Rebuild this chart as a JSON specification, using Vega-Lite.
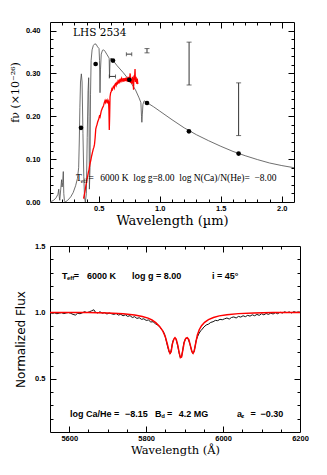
{
"$schema":"https://vega.github.io/schema/vega-lite/v6.json",
"padding":{"left":8,"top":21,"right":4,"bottom":4},
"background":"white",
"config":{"view":{"stroke":null},"axis":{"grid":false}},
"columns":1,"align":"none","spacing":14,
"datasets":{
"model":[{"x":0.10,"y":0.0},{"x":0.13,"y":0.004},{"x":0.15,"y":0.01},{"x":0.165,"y":0.018},{"x":0.172,"y":0.03},{"x":0.176,"y":0.012},{"x":0.18,"y":0.004},{"x":0.188,"y":0.03},{"x":0.195,"y":0.052},{"x":0.199,"y":0.035},{"x":0.204,"y":0.045},{"x":0.209,"y":0.071},{"x":0.213,"y":0.02},{"x":0.218,"y":0.003},{"x":0.225,"y":0.0},{"x":0.245,"y":0.004},{"x":0.27,"y":0.012},{"x":0.29,"y":0.022},{"x":0.31,"y":0.038},{"x":0.325,"y":0.055},{"x":0.335,"y":0.08},{"x":0.34,"y":0.14},{"x":0.345,"y":0.22},{"x":0.35,"y":0.28},{"x":0.357,"y":0.299},{"x":0.363,"y":0.28},{"x":0.37,"y":0.16},{"x":0.377,"y":0.06},{"x":0.383,"y":0.01},{"x":0.39,"y":0.0},{"x":0.398,"y":0.02},{"x":0.405,"y":0.15},{"x":0.412,"y":0.26},{"x":0.417,"y":0.29},{"x":0.42,"y":0.2},{"x":0.423,"y":0.03},{"x":0.428,"y":0.08},{"x":0.432,"y":0.25},{"x":0.437,"y":0.33},{"x":0.445,"y":0.355},{"x":0.455,"y":0.365},{"x":0.467,"y":0.369},{"x":0.478,"y":0.368},{"x":0.49,"y":0.362},{"x":0.502,"y":0.358},{"x":0.506,"y":0.33},{"x":0.51,"y":0.255},{"x":0.514,"y":0.31},{"x":0.52,"y":0.345},{"x":0.53,"y":0.354},{"x":0.54,"y":0.355},{"x":0.55,"y":0.352},{"x":0.565,"y":0.345},{"x":0.58,"y":0.338},{"x":0.585,"y":0.335},{"x":0.588,"y":0.29},{"x":0.592,"y":0.33},{"x":0.6,"y":0.336},{"x":0.62,"y":0.329},{"x":0.65,"y":0.318},{"x":0.7,"y":0.302},{"x":0.75,"y":0.284},{"x":0.8,"y":0.262},{"x":0.83,"y":0.243},{"x":0.845,"y":0.232},{"x":0.85,"y":0.2},{"x":0.853,"y":0.186},{"x":0.857,"y":0.205},{"x":0.862,"y":0.228},{"x":0.872,"y":0.236},{"x":0.88,"y":0.235},{"x":0.9,"y":0.231},{"x":0.95,"y":0.222},{"x":1.0,"y":0.212},{"x":1.1,"y":0.192},{"x":1.2,"y":0.173},{"x":1.3,"y":0.157},{"x":1.4,"y":0.143},{"x":1.5,"y":0.13},{"x":1.6,"y":0.118},{"x":1.7,"y":0.108},{"x":1.8,"y":0.099},{"x":1.9,"y":0.091},{"x":2.0,"y":0.085},{"x":2.1,"y":0.08}],
"obs":[{"x":0.375,"y":0.008},{"x":0.380,"y":0.015},{"x":0.385,"y":0.022},{"x":0.390,"y":0.030},{"x":0.395,"y":0.040},{"x":0.400,"y":0.046},{"x":0.405,"y":0.055},{"x":0.410,"y":0.062},{"x":0.415,"y":0.070},{"x":0.420,"y":0.075},{"x":0.425,"y":0.085},{"x":0.430,"y":0.092},{"x":0.435,"y":0.098},{"x":0.440,"y":0.106},{"x":0.445,"y":0.112},{"x":0.450,"y":0.118},{"x":0.455,"y":0.124},{"x":0.460,"y":0.128},{"x":0.465,"y":0.135},{"x":0.470,"y":0.150},{"x":0.475,"y":0.170},{"x":0.480,"y":0.176},{"x":0.485,"y":0.180},{"x":0.490,"y":0.186},{"x":0.495,"y":0.190},{"x":0.500,"y":0.194},{"x":0.505,"y":0.200},{"x":0.510,"y":0.198},{"x":0.515,"y":0.205},{"x":0.520,"y":0.212},{"x":0.525,"y":0.216},{"x":0.530,"y":0.220},{"x":0.535,"y":0.222},{"x":0.540,"y":0.226},{"x":0.545,"y":0.232},{"x":0.550,"y":0.236},{"x":0.555,"y":0.232},{"x":0.560,"y":0.238},{"x":0.565,"y":0.236},{"x":0.570,"y":0.230},{"x":0.575,"y":0.238},{"x":0.580,"y":0.235},{"x":0.583,"y":0.215},{"x":0.586,"y":0.168},{"x":0.589,"y":0.200},{"x":0.592,"y":0.245},{"x":0.597,"y":0.255},{"x":0.602,"y":0.258},{"x":0.607,"y":0.264},{"x":0.612,"y":0.262},{"x":0.617,"y":0.268},{"x":0.622,"y":0.270},{"x":0.627,"y":0.266},{"x":0.632,"y":0.274},{"x":0.637,"y":0.276},{"x":0.642,"y":0.272},{"x":0.647,"y":0.278},{"x":0.652,"y":0.276},{"x":0.657,"y":0.282},{"x":0.662,"y":0.279},{"x":0.667,"y":0.284},{"x":0.672,"y":0.280},{"x":0.677,"y":0.285},{"x":0.682,"y":0.282},{"x":0.687,"y":0.288},{"x":0.692,"y":0.283},{"x":0.697,"y":0.286},{"x":0.702,"y":0.281},{"x":0.707,"y":0.289},{"x":0.712,"y":0.284},{"x":0.717,"y":0.287},{"x":0.722,"y":0.282},{"x":0.727,"y":0.290},{"x":0.732,"y":0.284},{"x":0.737,"y":0.288},{"x":0.742,"y":0.280},{"x":0.747,"y":0.292},{"x":0.752,"y":0.283},{"x":0.757,"y":0.300},{"x":0.760,"y":0.278},{"x":0.765,"y":0.288},{"x":0.770,"y":0.276},{"x":0.775,"y":0.292},{"x":0.780,"y":0.282},{"x":0.785,"y":0.262},{"x":0.788,"y":0.295},{"x":0.792,"y":0.284},{"x":0.797,"y":0.310},{"x":0.800,"y":0.280},{"x":0.805,"y":0.292},{"x":0.810,"y":0.276},{"x":0.815,"y":0.288},{"x":0.820,"y":0.275}],
"phot":[{"x":0.354,"y":0.173},{"x":0.474,"y":0.322},{"x":0.616,"y":0.330},{"x":0.75,"y":0.285},{"x":0.895,"y":0.231},{"x":1.239,"y":0.165},{"x":1.646,"y":0.113}],
"verr":[{"x":0.895,"lo":0.348,"hi":0.358},{"x":1.24,"lo":0.273,"hi":0.373},{"x":1.646,"lo":0.155,"hi":0.278}],
"herr":[{"y":0.345,"lo":0.726,"hi":0.77},{"y":0.293,"lo":0.586,"hi":0.637}],
"ttitle":[{"x":0.289,"y":0.395,"t":"LHS 2534"}],
"tmain":[{"x":0.313,"y":0.056,"t":"T"},{"x":0.415,"y":0.056,"t":"="},{"x":0.512,"y":0.056,"t":"6000 K\u00a0\u00a0log g=8.00\u00a0\u00a0log N(Ca)/N(He)=\u00a0\u00a0−8.00"}],
"tsub":[{"x":0.352,"y":0.048,"t":"eff"}],
"bobs":[{"x":5550,"y":1.000},{"x":5556,"y":0.992},{"x":5562,"y":0.997},{"x":5568,"y":0.990},{"x":5574,"y":0.995},{"x":5580,"y":0.998},{"x":5586,"y":0.991},{"x":5592,"y":0.996},{"x":5598,"y":0.999},{"x":5604,"y":0.993},{"x":5610,"y":0.985},{"x":5616,"y":0.980},{"x":5622,"y":0.994},{"x":5628,"y":0.990},{"x":5634,"y":0.997},{"x":5640,"y":1.006},{"x":5646,"y":0.998},{"x":5652,"y":1.004},{"x":5658,"y":1.012},{"x":5664,"y":1.020},{"x":5668,"y":1.002},{"x":5674,"y":0.996},{"x":5680,"y":1.005},{"x":5686,"y":0.994},{"x":5692,"y":0.999},{"x":5698,"y":0.988},{"x":5704,"y":0.996},{"x":5710,"y":0.990},{"x":5716,"y":0.985},{"x":5722,"y":0.992},{"x":5728,"y":0.980},{"x":5734,"y":0.986},{"x":5740,"y":0.975},{"x":5746,"y":0.982},{"x":5752,"y":0.970},{"x":5758,"y":0.976},{"x":5764,"y":0.962},{"x":5770,"y":0.968},{"x":5776,"y":0.955},{"x":5782,"y":0.960},{"x":5788,"y":0.948},{"x":5794,"y":0.952},{"x":5800,"y":0.940},{"x":5806,"y":0.943},{"x":5812,"y":0.928},{"x":5818,"y":0.930},{"x":5824,"y":0.915},{"x":5830,"y":0.905},{"x":5836,"y":0.890},{"x":5840,"y":0.872},{"x":5844,"y":0.860},{"x":5848,"y":0.835},{"x":5852,"y":0.790},{"x":5856,"y":0.740},{"x":5860,"y":0.700},{"x":5863,"y":0.690},{"x":5866,"y":0.730},{"x":5869,"y":0.780},{"x":5872,"y":0.800},{"x":5875,"y":0.808},{"x":5878,"y":0.795},{"x":5882,"y":0.750},{"x":5886,"y":0.690},{"x":5889,"y":0.660},{"x":5892,"y":0.665},{"x":5895,"y":0.715},{"x":5898,"y":0.770},{"x":5902,"y":0.800},{"x":5906,"y":0.808},{"x":5910,"y":0.795},{"x":5914,"y":0.760},{"x":5918,"y":0.715},{"x":5921,"y":0.692},{"x":5924,"y":0.700},{"x":5927,"y":0.740},{"x":5930,"y":0.790},{"x":5934,"y":0.820},{"x":5938,"y":0.845},{"x":5942,"y":0.862},{"x":5946,"y":0.875},{"x":5950,"y":0.890},{"x":5956,"y":0.905},{"x":5962,"y":0.912},{"x":5968,"y":0.925},{"x":5974,"y":0.930},{"x":5980,"y":0.940},{"x":5986,"y":0.938},{"x":5992,"y":0.948},{"x":5998,"y":0.945},{"x":6004,"y":0.952},{"x":6010,"y":0.958},{"x":6016,"y":0.950},{"x":6022,"y":0.962},{"x":6028,"y":0.966},{"x":6034,"y":0.958},{"x":6040,"y":0.970},{"x":6046,"y":0.965},{"x":6052,"y":0.975},{"x":6058,"y":0.968},{"x":6064,"y":0.978},{"x":6070,"y":0.972},{"x":6076,"y":0.982},{"x":6082,"y":0.975},{"x":6088,"y":0.985},{"x":6094,"y":0.978},{"x":6100,"y":0.990},{"x":6106,"y":0.982},{"x":6112,"y":0.992},{"x":6118,"y":0.985},{"x":6124,"y":0.995},{"x":6130,"y":0.988},{"x":6136,"y":0.998},{"x":6142,"y":0.990},{"x":6148,"y":1.002},{"x":6154,"y":0.995},{"x":6160,"y":1.005},{"x":6166,"y":0.998},{"x":6172,"y":1.004},{"x":6178,"y":0.996},{"x":6184,"y":1.006},{"x":6190,"y":1.000},{"x":6196,"y":1.004},{"x":6200,"y":1.002}],
"bmod":[{"x":5550,"y":1.0},{"x":5600,"y":1.0},{"x":5650,"y":0.999},{"x":5700,"y":0.996},{"x":5740,"y":0.990},{"x":5770,"y":0.981},{"x":5790,"y":0.970},{"x":5805,"y":0.957},{"x":5815,"y":0.943},{"x":5825,"y":0.923},{"x":5835,"y":0.895},{"x":5843,"y":0.862},{"x":5850,"y":0.815},{"x":5855,"y":0.762},{"x":5859,"y":0.715},{"x":5862,"y":0.692},{"x":5865,"y":0.705},{"x":5868,"y":0.760},{"x":5872,"y":0.800},{"x":5875,"y":0.810},{"x":5878,"y":0.800},{"x":5882,"y":0.755},{"x":5886,"y":0.695},{"x":5889,"y":0.660},{"x":5892,"y":0.665},{"x":5895,"y":0.710},{"x":5899,"y":0.775},{"x":5903,"y":0.805},{"x":5907,"y":0.810},{"x":5911,"y":0.795},{"x":5915,"y":0.750},{"x":5919,"y":0.705},{"x":5922,"y":0.692},{"x":5925,"y":0.710},{"x":5929,"y":0.770},{"x":5933,"y":0.828},{"x":5938,"y":0.870},{"x":5944,"y":0.900},{"x":5952,"y":0.926},{"x":5962,"y":0.946},{"x":5975,"y":0.962},{"x":5990,"y":0.974},{"x":6010,"y":0.983},{"x":6040,"y":0.991},{"x":6080,"y":0.996},{"x":6130,"y":0.999},{"x":6200,"y":1.0}],
"bline1":[{"x":5581,"y":1.275,"t":"T"},{"x":5612,"y":1.275,"t":"="},{"x":5646,"y":1.275,"t":"6000 K"},{"x":5763,"y":1.275,"t":"log g = 8.00"},{"x":5971,"y":1.275,"t":"i = 45°"}],
"bline2":[{"x":5602,"y":0.237,"t":"log Ca/He ="},{"x":5745,"y":0.237,"t":"−8.15"},{"x":5823,"y":0.237,"t":"B"},{"x":5854,"y":0.237,"t":"="},{"x":5885,"y":0.237,"t":"4.2 MG"},{"x":6036,"y":0.237,"t":"a"},{"x":6071,"y":0.237,"t":"="},{"x":6097,"y":0.237,"t":"−0.30"}],
"bsub":[{"x":5594,"y":1.257,"t":"eff"},{"x":5839,"y":0.219,"t":"d"},{"x":6047,"y":0.219,"t":"z"}]
},
"concat":[
{
"width":244,"height":180,
"resolve":{"axis":{"x":"independent","y":"independent"}},
"layer":[
{"data":{"name":"model"},"mark":{"type":"line","color":"#4a4a4a","strokeWidth":0.8,"clip":true},
 "encoding":{
  "x":{"field":"x","type":"quantitative","scale":{"domain":[0.1,2.1],"nice":false,"zero":false},
   "axis":{"orient":"bottom","values":[0.5,1,1.5,2],"format":".1f","ticks":false,"tickSize":0,"domain":true,"domainColor":"black","domainWidth":1,"labelFont":"Liberation Sans","labelFontWeight":"bold","labelFontSize":7.5,"labelColor":"black","labelPadding":2,"labelFlush":false,"labelOverlap":false,"title":"Wavelength (µm)","titleFont":"DejaVu Serif","titleFontSize":13,"titleFontWeight":"normal","titleColor":"black","titlePadding":3}},
  "y":{"field":"y","type":"quantitative","scale":{"domain":[0,0.42],"nice":false,"zero":false},
   "axis":{"orient":"left","values":[0,0.1,0.2,0.3,0.4],"format":".2f","ticks":false,"tickSize":0,"domain":true,"domainColor":"black","domainWidth":1,"labelFont":"Liberation Sans","labelFontWeight":"bold","labelFontSize":7.5,"labelColor":"black","labelPadding":10,"labelFlush":false,"labelOverlap":false,"title":"fν (×10⁻²⁶)","titleFont":"DejaVu Serif","titleFontSize":11,"titleFontWeight":"normal","titleColor":"black","titleX":-30,"titleY":70}}}},
{"data":{"name":"obs"},"mark":{"type":"line","color":"#ff0000","strokeWidth":1.3,"clip":true},
 "encoding":{
  "x":{"field":"x","type":"quantitative","scale":{"domain":[0.1,2.1],"nice":false,"zero":false},
   "axis":{"orient":"bottom","values":[0.5,1,1.5,2],"labels":false,"domain":false,"ticks":true,"tickSize":-6,"tickColor":"black","title":null}},
  "y":{"field":"y","type":"quantitative","scale":{"domain":[0,0.42],"nice":false,"zero":false},
   "axis":{"orient":"left","values":[0.1,0.2,0.3,0.4],"labels":false,"domain":false,"ticks":true,"tickSize":-6,"tickColor":"black","title":null}}}},
{"data":{"name":"phot"},"mark":{"type":"point","filled":true,"color":"black","size":22,"opacity":1},
 "encoding":{
  "x":{"field":"x","type":"quantitative","scale":{"domain":[0.1,2.1],"nice":false,"zero":false},
   "axis":{"orient":"bottom","values":[0.2,0.3,0.4,0.6,0.7,0.8,0.9,1.1,1.2,1.3,1.4,1.6,1.7,1.8,1.9],"labels":false,"domain":false,"ticks":true,"tickSize":-3,"tickColor":"black","title":null}},
  "y":{"field":"y","type":"quantitative","scale":{"domain":[0,0.42],"nice":false,"zero":false},
   "axis":{"orient":"left","values":[0.02,0.04,0.06,0.08,0.12,0.14,0.16,0.18,0.22,0.24,0.26,0.28,0.32,0.34,0.36,0.38],"labels":false,"domain":false,"ticks":true,"tickSize":-3,"tickColor":"black","title":null}}}},
{"data":{"name":"verr"},"mark":{"type":"rule","color":"#333333","strokeWidth":1},
 "encoding":{
  "x":{"field":"x","type":"quantitative","scale":{"domain":[0.1,2.1],"nice":false,"zero":false},
   "axis":{"orient":"top","values":[0.5,1,1.5,2],"labels":false,"domain":true,"domainColor":"black","domainWidth":1,"ticks":true,"tickSize":-6,"tickColor":"black","title":null}},
  "y":{"field":"lo","type":"quantitative","scale":{"domain":[0,0.42],"nice":false,"zero":false},
   "axis":{"orient":"right","values":[0.1,0.2,0.3,0.4],"labels":false,"domain":true,"domainColor":"black","domainWidth":1,"ticks":true,"tickSize":-6,"tickColor":"black","title":null}},
  "y2":{"field":"hi"}}},
{"data":{"name":"verr"},"mark":{"type":"tick","orient":"horizontal","color":"#333333","size":5,"thickness":1},
 "encoding":{
  "x":{"field":"x","type":"quantitative","scale":{"domain":[0.1,2.1],"nice":false,"zero":false},
   "axis":{"orient":"top","values":[0.2,0.3,0.4,0.6,0.7,0.8,0.9,1.1,1.2,1.3,1.4,1.6,1.7,1.8,1.9],"labels":false,"domain":false,"ticks":true,"tickSize":-3,"tickColor":"black","title":null}},
  "y":{"field":"lo","type":"quantitative","scale":{"domain":[0,0.42],"nice":false,"zero":false},
   "axis":{"orient":"right","values":[0.02,0.04,0.06,0.08,0.12,0.14,0.16,0.18,0.22,0.24,0.26,0.28,0.32,0.34,0.36,0.38],"labels":false,"domain":false,"ticks":true,"tickSize":-3,"tickColor":"black","title":null}}}},
{"data":{"name":"verr"},"mark":{"type":"tick","orient":"horizontal","color":"#333333","size":5,"thickness":1},
 "encoding":{
  "x":{"field":"x","type":"quantitative","scale":{"domain":[0.1,2.1],"nice":false,"zero":false},"axis":null},
  "y":{"field":"hi","type":"quantitative","scale":{"domain":[0,0.42],"nice":false,"zero":false},"axis":null}}},
{"data":{"name":"herr"},"mark":{"type":"rule","color":"#333333","strokeWidth":1},
 "encoding":{
  "x":{"field":"lo","type":"quantitative","scale":{"domain":[0.1,2.1],"nice":false,"zero":false},"axis":null},
  "x2":{"field":"hi"},
  "y":{"field":"y","type":"quantitative","scale":{"domain":[0,0.42],"nice":false,"zero":false},"axis":null}}},
{"data":{"name":"herr"},"mark":{"type":"tick","orient":"vertical","color":"#333333","size":4,"thickness":1},
 "encoding":{
  "x":{"field":"lo","type":"quantitative","scale":{"domain":[0.1,2.1],"nice":false,"zero":false},"axis":null},
  "y":{"field":"y","type":"quantitative","scale":{"domain":[0,0.42],"nice":false,"zero":false},"axis":null}}},
{"data":{"name":"herr"},"mark":{"type":"tick","orient":"vertical","color":"#333333","size":4,"thickness":1},
 "encoding":{
  "x":{"field":"hi","type":"quantitative","scale":{"domain":[0.1,2.1],"nice":false,"zero":false},"axis":null},
  "y":{"field":"y","type":"quantitative","scale":{"domain":[0,0.42],"nice":false,"zero":false},"axis":null}}},
{"data":{"name":"ttitle"},"mark":{"type":"text","font":"DejaVu Serif","fontSize":10.5,"align":"left","baseline":"middle","color":"black"},
 "encoding":{
  "x":{"field":"x","type":"quantitative","scale":{"domain":[0.1,2.1],"nice":false,"zero":false},"axis":null},
  "y":{"field":"y","type":"quantitative","scale":{"domain":[0,0.42],"nice":false,"zero":false},"axis":null},
  "text":{"field":"t"}}},
{"data":{"name":"tmain"},"mark":{"type":"text","font":"Liberation Serif","fontSize":9.5,"align":"left","baseline":"middle","color":"black"},
 "encoding":{
  "x":{"field":"x","type":"quantitative","scale":{"domain":[0.1,2.1],"nice":false,"zero":false},"axis":null},
  "y":{"field":"y","type":"quantitative","scale":{"domain":[0,0.42],"nice":false,"zero":false},"axis":null},
  "text":{"field":"t"}}},
{"data":{"name":"tsub"},"mark":{"type":"text","font":"Liberation Serif","fontSize":6,"align":"left","baseline":"middle","color":"black"},
 "encoding":{
  "x":{"field":"x","type":"quantitative","scale":{"domain":[0.1,2.1],"nice":false,"zero":false},"axis":null},
  "y":{"field":"y","type":"quantitative","scale":{"domain":[0,0.42],"nice":false,"zero":false},"axis":null},
  "text":{"field":"t"}}}
]
},
{
"width":250,"height":186,
"resolve":{"axis":{"x":"independent","y":"independent"}},
"layer":[
{"data":{"name":"bobs"},"mark":{"type":"line","color":"#111111","strokeWidth":1,"clip":true},
 "encoding":{
  "x":{"field":"x","type":"quantitative","scale":{"domain":[5550,6200],"nice":false,"zero":false},
   "axis":{"orient":"bottom","values":[5600,5800,6000,6200],"format":"d","ticks":false,"tickSize":0,"domain":true,"domainColor":"black","domainWidth":1,"labelFont":"Liberation Sans","labelFontWeight":"bold","labelFontSize":7.5,"labelColor":"black","labelPadding":2,"labelFlush":false,"labelOverlap":false,"title":"Wavelength (Å)","titleFont":"DejaVu Serif","titleFontSize":11.5,"titleFontWeight":"normal","titleColor":"black","titlePadding":3}},
  "y":{"field":"y","type":"quantitative","scale":{"domain":[0.1,1.5],"nice":false,"zero":false},
   "axis":{"orient":"left","values":[0.5,1,1.5],"format":".1f","ticks":false,"tickSize":0,"domain":true,"domainColor":"black","domainWidth":1,"labelFont":"Liberation Sans","labelFontWeight":"bold","labelFontSize":7.5,"labelColor":"black","labelPadding":5,"labelFlush":false,"labelOverlap":false,"title":"Normalized Flux","titleFont":"DejaVu Sans","titleFontSize":12,"titleFontWeight":"normal","titleColor":"black","titleX":-22.5,"titleY":93}}}},
{"data":{"name":"bmod"},"mark":{"type":"line","color":"#ff0000","strokeWidth":1.5,"clip":true},
 "encoding":{
  "x":{"field":"x","type":"quantitative","scale":{"domain":[5550,6200],"nice":false,"zero":false},
   "axis":{"orient":"bottom","values":[5600,5800,6000],"labels":false,"domain":false,"ticks":true,"tickSize":-6,"tickColor":"black","title":null}},
  "y":{"field":"y","type":"quantitative","scale":{"domain":[0.1,1.5],"nice":false,"zero":false},
   "axis":{"orient":"left","values":[0.5,1],"labels":false,"domain":false,"ticks":true,"tickSize":-6,"tickColor":"black","title":null}}}},
{"data":{"name":"bline1"},"mark":{"type":"text","font":"Liberation Sans","fontWeight":"bold","fontSize":9,"align":"left","baseline":"middle","color":"black"},
 "encoding":{
  "x":{"field":"x","type":"quantitative","scale":{"domain":[5550,6200],"nice":false,"zero":false},
   "axis":{"orient":"bottom","values":[5650,5700,5750,5850,5900,5950,6050,6100,6150],"labels":false,"domain":false,"ticks":true,"tickSize":-3,"tickColor":"black","title":null}},
  "y":{"field":"y","type":"quantitative","scale":{"domain":[0.1,1.5],"nice":false,"zero":false},
   "axis":{"orient":"left","values":[0.2,0.3,0.4,0.6,0.7,0.8,0.9,1.1,1.2,1.3,1.4],"labels":false,"domain":false,"ticks":true,"tickSize":-3,"tickColor":"black","title":null}},
  "text":{"field":"t"}}},
{"data":{"name":"bline2"},"mark":{"type":"text","font":"Liberation Sans","fontWeight":"bold","fontSize":9,"align":"left","baseline":"middle","color":"black"},
 "encoding":{
  "x":{"field":"x","type":"quantitative","scale":{"domain":[5550,6200],"nice":false,"zero":false},
   "axis":{"orient":"top","values":[5600,5800,6000],"labels":false,"domain":true,"domainColor":"black","domainWidth":1,"ticks":true,"tickSize":-6,"tickColor":"black","title":null}},
  "y":{"field":"y","type":"quantitative","scale":{"domain":[0.1,1.5],"nice":false,"zero":false},
   "axis":{"orient":"right","values":[0.5,1],"labels":false,"domain":true,"domainColor":"black","domainWidth":1,"ticks":true,"tickSize":-6,"tickColor":"black","title":null}},
  "text":{"field":"t"}}},
{"data":{"name":"bsub"},"mark":{"type":"text","font":"Liberation Sans","fontWeight":"bold","fontSize":6,"align":"left","baseline":"middle","color":"black"},
 "encoding":{
  "x":{"field":"x","type":"quantitative","scale":{"domain":[5550,6200],"nice":false,"zero":false},
   "axis":{"orient":"top","values":[5650,5700,5750,5850,5900,5950,6050,6100,6150],"labels":false,"domain":false,"ticks":true,"tickSize":-3,"tickColor":"black","title":null}},
  "y":{"field":"y","type":"quantitative","scale":{"domain":[0.1,1.5],"nice":false,"zero":false},
   "axis":{"orient":"right","values":[0.2,0.3,0.4,0.6,0.7,0.8,0.9,1.1,1.2,1.3,1.4],"labels":false,"domain":false,"ticks":true,"tickSize":-3,"tickColor":"black","title":null}},
  "text":{"field":"t"}}}
]
}
]
}
